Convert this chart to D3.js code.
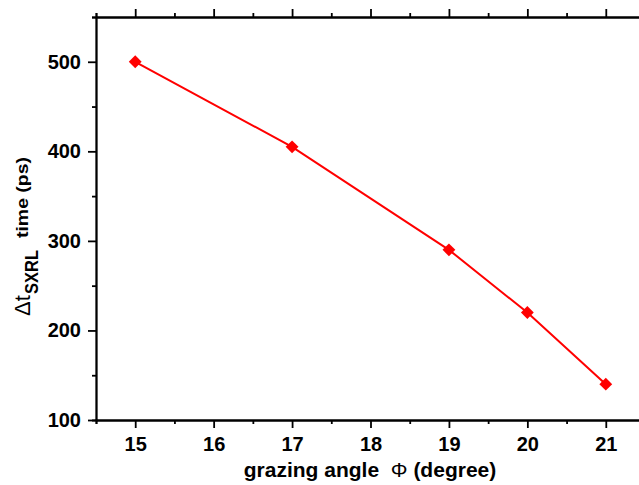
<!DOCTYPE html>
<html>
<head>
<meta charset="utf-8">
<script src="https://cdn.jsdelivr.net/npm/d3@7"></script>
<style>
  body { margin: 0; background: #fff; }
  svg { display: block; font-family: "Liberation Sans", Arial, sans-serif; }
  .tick text { font-size: 20px; font-weight: bold; fill: #000; font-family: "Liberation Sans", Arial, sans-serif; }
  .domain, .tick line { stroke: #000; stroke-width: 1.8; }
</style>
</head>
<body>
<svg></svg>
<script>
// data
let angles = [15, 17, 19, 20, 21];
let times = [500, 405, 290, 220, 140];
let xTicks = [15, 16, 17, 18, 19, 20, 21];
let yTicks = [100, 200, 300, 400, 500];

let width = 639;
let height = 485;
let padLeft = 96, padRight = 645, padTop = 17, padBottom = 420;

let svg = d3.select('svg')
            .attr('width', width)
            .attr('height', height);

let xScale = d3.scaleLinear()
               .domain([14.5, 21.5])
               .range([padLeft, padRight]);

let yScale = d3.scaleLinear()
               .domain([100, 550])
               .range([padBottom, padTop]);

let minorX = d3.range(14.5, 21.51, 0.5).filter(v => !xTicks.includes(v));
let minorY = d3.range(150, 551, 50).filter(v => !yTicks.includes(v));

// minor ticks first
svg.append('g')
   .attr('transform', 'translate(0,' + padBottom + ')')
   .call(d3.axisBottom(xScale).tickValues(minorX).tickSize(4).tickFormat(''));
svg.append('g')
   .attr('transform', 'translate(0,' + padTop + ')')
   .call(d3.axisTop(xScale).tickValues(minorX).tickSize(4).tickFormat(''));
svg.append('g')
   .attr('transform', 'translate(' + padLeft + ',0)')
   .call(d3.axisLeft(yScale).tickValues(minorY).tickSize(4).tickFormat(''));

// major ticks
svg.append('g')
   .attr('transform', 'translate(0,' + padBottom + ')')
   .call(d3.axisBottom(xScale).tickValues(xTicks).tickSize(8).tickSizeOuter(0).tickPadding(9).tickFormat(d3.format('d')));
svg.append('g')
   .attr('transform', 'translate(0,' + padTop + ')')
   .call(d3.axisTop(xScale).tickValues(xTicks).tickSize(8).tickSizeOuter(0).tickFormat(''));
svg.append('g')
   .attr('transform', 'translate(' + padLeft + ',0)')
   .call(d3.axisLeft(yScale).tickValues(yTicks).tickSize(8).tickSizeOuter(0).tickPadding(7).tickFormat(d3.format('d')));
svg.append('g')
   .attr('transform', 'translate(' + padRight + ',0)')
   .call(d3.axisRight(yScale).tickValues(yTicks).tickSize(8).tickSizeOuter(0).tickFormat(''));

let values = angles.map((a, i) => [a, times[i]]);

svg.append('path')
   .datum(values)
   .attr('fill', 'none')
   .attr('stroke', '#ff0000')
   .attr('stroke-width', 2)
   .attr('d', d3.line().x(d => xScale(d[0])).y(d => yScale(d[1])));

svg.selectAll('.marker')
   .data(values)
   .enter()
   .append('path')
   .attr('class', 'marker')
   .attr('fill', '#ff0000')
   .attr('d', d3.symbol(d3.symbolDiamond2, 105))
   .attr('transform', d => 'translate(' + xScale(d[0]) + ',' + yScale(d[1]) + ')');

// axis titles
let xTitle = svg.append('text')
   .attr('x', 370)
   .attr('y', 477)
   .attr('text-anchor', 'middle')
   .style('white-space', 'pre')
   .style('font-size', '21px')
   .style('font-weight', 'bold');
xTitle.append('tspan').text('grazing angle  ');
xTitle.append('tspan').style('font-weight', 'normal').text('\u03A6');
xTitle.append('tspan').text(' (degree)');

let yTitle = svg.append('g').attr('transform', 'rotate(-90)');
yTitle.append('text')
   .attr('x', -316).attr('y', 30)
   .style('font-size', '22px')
   .text('\u0394t');
yTitle.append('text')
   .attr('x', -294).attr('y', 38)
   .attr('textLength', 44)
   .attr('lengthAdjust', 'spacingAndGlyphs')
   .style('font-size', '18px')
   .style('font-weight', 'bold')
   .text('SXRL');
yTitle.append('text')
   .attr('x', -238).attr('y', 28)
   .attr('textLength', 81)
   .attr('lengthAdjust', 'spacingAndGlyphs')
   .style('font-size', '17px')
   .style('font-weight', 'bold')
   .text('time (ps)');
</script>
</body>
</html>
